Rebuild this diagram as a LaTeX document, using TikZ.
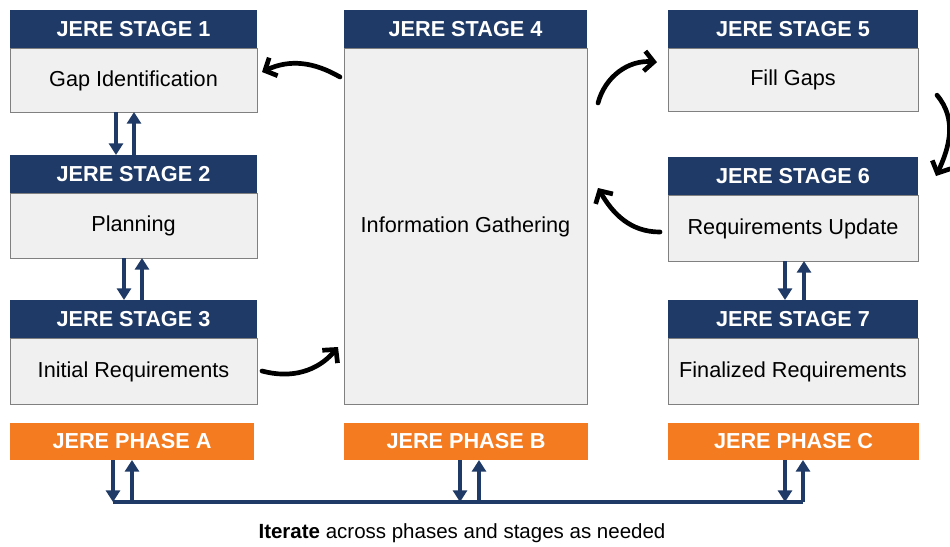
\documentclass[tikz,border=0pt]{standalone}
\usepackage{fontspec}
\setmainfont{Liberation Sans}
\usetikzlibrary{positioning,arrows.meta}
\definecolor{jerenavy}{HTML}{1F3A66}
\definecolor{jereorange}{HTML}{F47B20}
\definecolor{jeregray}{HTML}{F0F0F0}
\begin{document}
\begin{tikzpicture}[x=0.03cm, y=-0.03cm,
    head/.style = {fill=jerenavy, text=white, font=\fontsize{18.5}{22}\selectfont\bfseries, minimum height=1.14cm, inner sep=0pt, outer sep=0pt},
    body/.style = {fill=jeregray, draw=gray, line width=0.8pt, font=\fontsize{18.5}{22}\selectfont, text depth=0.1cm, inner sep=0pt, outer sep=0pt},
    phase/.style = {fill=jereorange, text=white, font=\fontsize{18.5}{22}\selectfont\bfseries, minimum height=1.11cm, inner sep=0pt, outer sep=0pt},
    updown/.style = {draw=jerenavy, line width=3.6pt, -{Triangle[length=10pt,width=12pt]}},
    loop/.style = {draw=black, line width=4pt, line cap=round, -{Straight Barb[length=8pt,width=17pt]}}]
    \useasboundingbox (0,0) rectangle (950,546);

    \node[head, minimum width=7.41cm] (h1) at (133.5,29)  {JERE STAGE 1};
    \node[body, minimum width=7.41cm, minimum height=1.92cm, below=0pt of h1] (s1) {Gap Identification};
    \node[head, minimum width=7.41cm] (h2) at (133.5,174) {JERE STAGE 2};
    \node[body, minimum width=7.41cm, minimum height=1.95cm, below=0pt of h2] (s2) {Planning};
    \node[head, minimum width=7.41cm] (h3) at (133.5,319) {JERE STAGE 3};
    \node[body, minimum width=7.41cm, minimum height=1.98cm, below=0pt of h3] (s3) {Initial Requirements};

    \node[head, minimum width=7.29cm] (h4) at (465.5,29) {JERE STAGE 4};
    \node[body, minimum width=7.29cm, minimum height=10.68cm, below=0pt of h4] (s4) {Information Gathering};

    \node[head, minimum width=7.5cm] (h5) at (793,29)  {JERE STAGE 5};
    \node[body, minimum width=7.5cm, minimum height=1.89cm, below=0pt of h5] (s5) {Fill Gaps};
    \node[head, minimum width=7.5cm] (h6) at (793,176) {JERE STAGE 6};
    \node[body, minimum width=7.5cm, minimum height=1.98cm, below=0pt of h6] (s6) {Requirements Update};
    \node[head, minimum width=7.5cm] (h7) at (793,319) {JERE STAGE 7};
    \node[body, minimum width=7.5cm, minimum height=1.98cm, below=0pt of h7] (s7) {Finalized Requirements};

    \node[phase, minimum width=7.32cm] (pA) at (132,441.5)   {JERE PHASE A};
    \node[phase, minimum width=7.32cm] (pB) at (466,441.5)   {JERE PHASE B};
    \node[phase, minimum width=7.53cm] (pC) at (793.5,441.5) {JERE PHASE C};

    \coordinate (bus) at (0,502);
    \node[font=\fontsize{17.5}{21}\selectfont] (note) at (462,533) {\textbf{Iterate} across phases and stages as needed};

    \draw[updown] ([xshift=-0.525cm]s1.south) -- ([xshift=-0.525cm]h2.north);
    \draw[updown] ([xshift=0.015cm]h2.north) -- ([xshift=0.015cm]s1.south);
    \draw[updown] ([xshift=-0.285cm]s2.south) -- ([xshift=-0.285cm]h3.north);
    \draw[updown] ([xshift=0.255cm]h3.north) -- ([xshift=0.255cm]s2.south);
    \draw[updown] ([xshift=-0.24cm]s6.south) -- ([xshift=-0.24cm]h7.north);
    \draw[updown] ([xshift=0.33cm]h7.north) -- ([xshift=0.33cm]s6.south);

    \draw[draw=jerenavy, line width=3.6pt] ([xshift=-0.57cm]pA.south |- bus) -- ([xshift=0.285cm]pC.south |- bus);
    \draw[updown] ([xshift=-0.57cm]pA.south) -- ([xshift=-0.57cm]pA.south |- bus);
    \draw[updown] (pA.south |- bus) -- (pA.south);
    \draw[updown] ([xshift=-0.18cm]pB.south) -- ([xshift=-0.18cm]pB.south |- bus);
    \draw[updown] ([xshift=0.39cm]pB.south |- bus) -- ([xshift=0.39cm]pB.south);
    \draw[updown] ([xshift=-0.255cm]pC.south) -- ([xshift=-0.255cm]pC.south |- bus);
    \draw[updown] ([xshift=0.285cm]pC.south |- bus) -- ([xshift=0.285cm]pC.south);

    \draw[loop] ([xshift=-0.12cm,yshift=-0.87cm]s4.north west) to[out=150, in=25] ([xshift=0.15cm,yshift=0.24cm]s1.east);
    \draw[loop] ([xshift=0.33cm,yshift=-1.65cm]s4.north east) to[out=75, in=175] ([xshift=-0.33cm,yshift=0.52cm]s5.west);
    \draw[loop] ([xshift=0.57cm,yshift=-0.47cm]s5.east) to[out=-50, in=65] ([xshift=0.54cm]h6.east);
    \draw[loop] ([xshift=-0.24cm,yshift=-0.12cm]s6.west) to[out=180, in=-60] ([xshift=0.33cm,yshift=1.14cm]s4.east);
    \draw[loop] ([xshift=0.15cm]s3.east) to[out=-15, in=-130] ([xshift=-0.18cm,yshift=1.71cm]s4.south west);
\end{tikzpicture}
\end{document}
